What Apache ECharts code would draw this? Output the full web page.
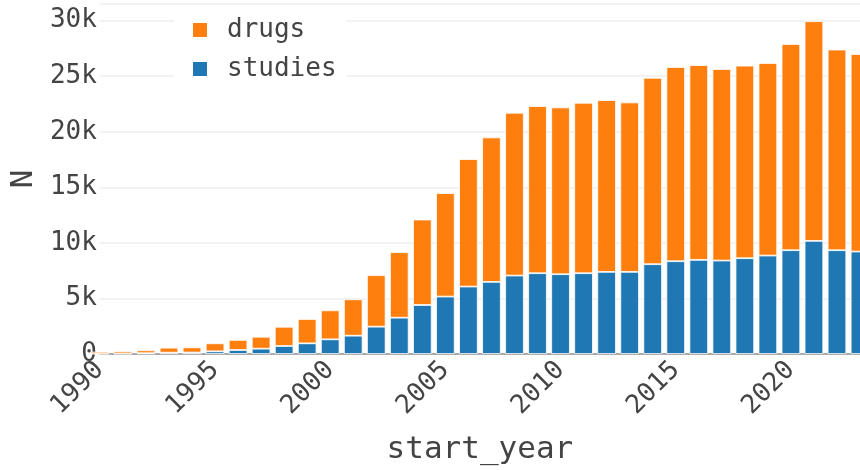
<!DOCTYPE html>
<html>
<head>
<meta charset="utf-8">
<script src="https://cdn.jsdelivr.net/npm/echarts@6/dist/echarts.min.js"></script>
<style>
html,body{margin:0;padding:0;background:#fff;}
#chart{width:860px;height:470px;}
</style>
</head>
<body>
<div id="chart"></div>
<script>
const years = ['1990','1991','1992','1993','1994','1995','1996','1997','1998','1999','2000','2001','2002','2003','2004','2005','2006','2007','2008','2009','2010','2011','2012','2013','2014','2015','2016','2017','2018','2019','2020','2021','2022','2023'];
const studies = [30,40,70,120,130,240,360,480,720,960,1320,1650,2460,3270,4410,5170,6070,6490,7060,7270,7180,7270,7390,7390,8080,8350,8470,8410,8620,8860,9340,10180,9340,9220];
const drugs = [170,200,260,450,470,720,910,1070,1730,2190,2610,3270,4630,5890,7690,9310,11470,13000,14650,15040,15010,15340,15460,15250,16780,17480,17530,17240,17330,17330,18560,19770,18060,17780];
const yTicks = [0,5000,10000,15000,20000,25000,30000];

const font = 'DejaVu Sans Mono';
const chart = echarts.init(document.getElementById('chart'));
chart.setOption({
  animation: false,
  backgroundColor: '#fff',
  grid: {left: 97, right: -3, top: 4, bottom: 116},
  legend: {
    data: ['drugs', 'studies'],
    orient: 'vertical',
    left: 174, top: 7,
    padding: [10, 10, 10, 17],
    backgroundColor: '#fff',
    icon: 'rect',
    itemWidth: 16, itemHeight: 16, itemGap: 13,
    textStyle: {fontFamily: font, fontSize: 26, color: '#444', padding: [0,0,0,14]}
  },
  xAxis: {
    type: 'category', data: years, boundaryGap: false,
    name: 'start_year', nameLocation: 'middle', nameGap: 80,
    nameTextStyle: {fontFamily: font, fontSize: 31, color: '#444'},
    axisLine: {show: true, lineStyle: {color: '#aaa', width: 2}},
    axisTick: {show: false},
    splitLine: {show: false},
    axisLabel: {
      interval: 4, rotate: 45, fontFamily: font, fontSize: 26, color: '#444', margin: 12
    }
  },
  yAxis: {
    type: 'value', min: 0, max: 31500, interval: 5000,
    name: 'N', nameLocation: 'middle', nameGap: 60,
    nameTextStyle: {fontFamily: font, fontSize: 31, color: '#444'},
    axisLine: {show: false}, axisTick: {show: false},
    splitLine: {lineStyle: {color: '#eeeeee', width: 1.5}},
    axisLabel: {
      fontFamily: font, fontSize: 26, color: '#444', margin: 3,
      formatter: v => (yTicks.indexOf(v) < 0 ? '' : (v === 0 ? '0' : (v / 1000) + 'k'))
    }
  },
  series: [
    {
      name: 'studies', type: 'bar', stack: 'total', barWidth: 18.6, clip: true,
      itemStyle: {color: '#1f77b4', borderColor: '#fff', borderWidth: 0.8},
      data: studies
    },
    {
      name: 'drugs', type: 'bar', stack: 'total', barWidth: 18.6, clip: true,
      itemStyle: {color: '#ff7f0e', borderColor: '#fff', borderWidth: 0.8},
      data: drugs
    }
  ]
});
</script>
</body>
</html>
